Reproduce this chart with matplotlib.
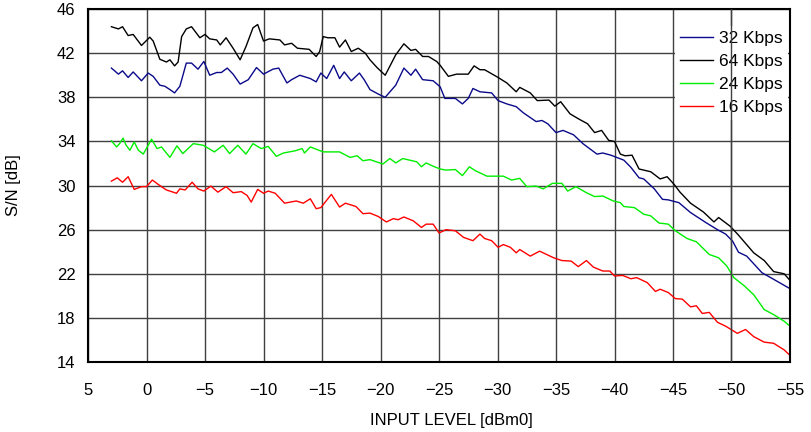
import numpy as np
import matplotlib
matplotlib.use("Agg")
import matplotlib.pyplot as plt

plt.rcParams['font.family'] = ['Liberation Sans', 'DejaVu Sans']

# 64 Kbps (black)
x64 = [3.0, 2.4, 2.05, 1.57, 1.14, 0.43, -0.28, -0.57, -1.14, -1.7, -2.0, -2.4, -2.7, -3.0, -3.4,
       -3.85, -4.56, -5.0, -5.4, -6.0, -6.3, -6.8, -7.4, -8.0, -8.5, -9.1, -9.5, -10.0, -10.5, -11.4,
       -11.8, -12.4, -12.9, -13.9, -14.5, -14.8, -15.1, -15.5, -16.1, -16.5, -17.0, -17.5, -18.1, -18.7,
       -19.1, -19.7, -20.4, -21.3, -22.0, -22.6, -23.0, -23.6, -24.1, -24.8, -25.1, -25.8, -26.5, -27.5,
       -28.0, -28.5, -28.9, -30.05, -30.8, -31.6, -31.9, -32.8, -33.4, -34.4, -34.9, -35.4, -36.2, -37.0,
       -37.7, -38.3, -38.9, -39.5, -40.0, -40.5, -40.9, -41.5, -42.1, -43.1, -43.9, -44.5, -45.1, -45.6,
       -46.5, -47.6, -48.5, -48.9, -49.9, -50.6, -51.9, -52.8, -53.6, -54.5, -55.0]
y64 = [44.4, 44.2, 44.4, 43.6, 43.7, 42.7, 43.45, 43.1, 41.45, 41.2, 41.4, 40.85, 41.2, 43.5, 44.2,
       44.4, 43.4, 43.7, 43.3, 43.2, 42.75, 43.4, 42.45, 41.4, 42.6, 44.3, 44.6, 43.1, 43.3, 43.2,
       42.75, 42.9, 42.45, 42.35, 41.7, 42.15, 43.5, 43.4, 43.4, 42.55, 43.2, 42.15, 42.45, 42.0,
       41.4, 40.7, 40.0, 41.85, 42.85, 42.25, 42.35, 41.7, 41.7, 41.25, 40.9, 39.9, 40.1, 40.1,
       40.85, 40.5, 40.5, 39.8, 39.3, 38.5, 38.9, 38.4, 37.7, 37.75, 37.2, 37.6, 36.5, 36.0,
       35.6, 34.8, 35.0, 34.1, 34.0, 32.85, 32.7, 32.75, 31.5, 31.25, 30.6, 30.8, 30.1, 29.4,
       28.4, 27.6, 26.7, 27.1, 26.3, 25.5, 23.9, 23.2, 22.2, 22.0, 21.4]

# 32 Kbps (navy)
x32 = [3.0, 2.4, 2.05, 1.57, 1.14, 0.43, -0.14, -0.57, -1.14, -1.57, -2.0, -2.4, -2.85, -3.4, -3.85,
       -4.4, -4.9, -5.4, -6.0, -6.4, -6.9, -7.4, -8.0, -8.7, -9.4, -10.0, -10.8, -11.3, -12.0, -12.4,
       -13.1, -14.0, -14.5, -14.9, -15.4, -16.0, -16.5, -16.9, -17.5, -18.2, -18.6, -19.1, -19.8, -20.4,
       -21.3, -22.0, -22.6, -23.0, -23.6, -24.5, -25.1, -25.5, -26.4, -27.0, -27.5, -27.9, -28.5, -29.5,
       -30.05, -30.8, -31.6, -32.2, -33.3, -33.8, -34.3, -35.0, -35.6, -36.5, -37.3, -38.5, -39.0, -39.7,
       -40.8, -41.4, -42.1, -42.5, -43.4, -44.1, -44.6, -45.5, -46.5, -47.8, -48.8, -49.5, -50.1, -50.6,
       -51.3, -52.6, -53.6, -55.0]
y32 = [40.65, 40.1, 40.4, 39.8, 40.3, 39.5, 40.2, 39.9, 39.1, 39.0, 38.7, 38.4, 39.0, 41.1, 41.1,
       40.55, 41.25, 40.0, 40.25, 40.25, 40.65, 40.1, 39.2, 39.6, 40.7, 40.1, 40.55, 40.65, 39.3, 39.6,
       40.0, 39.7, 39.4, 40.2, 39.7, 40.9, 39.7, 40.3, 39.5, 40.2, 39.6, 38.7, 38.3, 38.0,
       39.1, 40.65, 40.0, 40.55, 39.6, 39.5, 38.95, 37.9, 37.9, 37.4, 37.9, 38.8, 38.5, 38.4,
       37.7, 37.4, 37.15, 36.6, 35.8, 35.9, 35.6, 34.8, 35.0, 34.6, 33.8, 32.85, 32.95, 32.75,
       32.3, 31.65, 30.7, 30.6, 29.7, 28.75, 28.7, 28.45, 27.55, 26.65, 26.0, 25.6, 24.95, 23.95,
       23.6, 22.1, 21.5, 20.65]

# 24 Kbps (green)
x24 = [3.0, 2.56, 2.3, 2.0, 1.77, 1.42, 1.05, 0.7, 0.28, -0.43, -0.9, -1.28, -2.0, -2.6, -3.1,
       -4.0, -4.85, -5.8, -6.55, -7.1, -7.8, -8.5, -9.1, -9.8, -10.4, -11.1, -11.7, -12.7, -13.3, -13.5,
       -14.0, -15.1, -16.5, -17.4, -18.0, -18.5, -19.1, -20.2, -20.8, -21.3, -21.9, -23.1, -23.5, -23.9,
       -24.5, -25.1, -25.6, -26.4, -27.0, -27.6, -28.1, -29.1, -30.5, -31.2, -31.9, -32.5, -33.3, -33.9,
       -34.7, -35.5, -36.0, -36.7, -37.6, -38.3, -39.0, -39.9, -40.5, -40.8, -41.7, -42.5, -43.1, -43.8,
       -44.6, -45.2, -46.2, -47.0, -48.1, -48.9, -49.6, -50.2, -51.1, -51.9, -52.8, -53.6, -54.5, -55.0]
y24 = [34.05, 33.5, 33.8, 34.3, 33.7, 33.2, 33.95, 33.2, 32.85, 34.2, 33.35, 33.5, 32.55, 33.6, 32.9,
       33.8, 33.65, 33.05, 33.65, 32.9, 33.65, 32.85, 33.8, 33.35, 33.55, 32.65, 32.95, 33.15, 33.35, 32.95,
       33.5, 33.05, 33.05, 32.55, 32.7, 32.25, 32.35, 31.95, 32.45, 32.05, 32.45, 32.15, 31.7, 32.05,
       31.75, 31.5, 31.4, 31.45, 30.9, 31.7, 31.35, 30.85, 30.85, 30.5, 30.65, 29.9, 29.95, 29.7,
       30.2, 30.2, 29.5, 29.9, 29.35, 29.0, 29.05, 28.6, 28.45, 28.1, 28.0, 27.4, 27.25, 26.6,
       26.5, 25.9, 25.2, 24.9, 23.75, 23.45, 22.7, 21.65, 20.9, 20.1, 18.75, 18.3, 17.7, 17.25]

# 16 Kbps (red)
x16 = [3.0, 2.5, 2.05, 1.57, 1.05, 0.43, 0.0, -0.5, -1.0, -1.7, -2.56, -2.85, -3.3, -3.9, -4.4,
       -4.9, -5.5, -6.1, -6.8, -7.4, -8.1, -8.6, -8.95, -9.5, -10.0, -10.4, -11.0, -11.8, -12.8, -13.4,
       -14.0, -14.5, -14.9, -15.8, -16.5, -17.0, -17.9, -18.5, -19.1, -19.8, -20.5, -21.1, -21.5, -22.0,
       -22.8, -23.5, -23.9, -24.5, -25.0, -25.6, -26.4, -27.1, -27.9, -28.5, -28.9, -29.5, -30.05, -30.5,
       -31.1, -31.6, -31.9, -32.8, -33.6, -34.8, -35.5, -36.3, -36.9, -37.6, -38.2, -39.0, -39.6, -40.0,
       -40.7, -41.4, -41.9, -42.8, -43.5, -43.9, -44.6, -45.2, -45.8, -46.5, -47.0, -47.5, -48.1, -48.8,
       -49.5, -50.5, -51.2, -51.9, -52.8, -53.6, -54.5, -55.0]
y16 = [30.4, 30.7, 30.3, 30.8, 29.65, 29.9, 29.9, 30.5, 30.1, 29.6, 29.3, 29.7, 29.6, 30.3, 29.7,
       29.5, 29.95, 29.4, 29.9, 29.35, 29.45, 29.1, 28.5, 29.65, 29.3, 29.5, 29.3, 28.4, 28.6, 28.4,
       28.8, 27.9, 28.0, 29.2, 28.05, 28.4, 28.1, 27.45, 27.5, 27.2, 26.7, 27.0, 26.9, 27.15,
       26.8, 26.2, 26.5, 26.5, 25.7, 26.0, 25.9, 25.3, 25.0, 25.6, 25.2, 25.0, 24.4, 24.65,
       24.4, 23.9, 24.2, 23.6, 24.05, 23.45, 23.2, 23.15, 22.65, 23.2, 22.6, 22.25, 22.25, 21.8,
       21.85, 21.55, 21.65, 21.2, 20.4, 20.6, 20.3, 19.75, 19.7, 19.0, 19.1, 18.4, 18.5, 17.6,
       17.25, 16.6, 16.95, 16.3, 15.8, 15.7, 15.1, 14.6]

series = [
    ("32 Kbps", x32, y32, "#0a0a8a"),
    ("64 Kbps", x64, y64, "black"),
    ("24 Kbps", x24, y24, "#00ee00"),
    ("16 Kbps", x16, y16, "red"),
]

xticks = np.arange(5, -56, -5)
yticks = np.arange(14, 47, 4)

fig = plt.figure(figsize=(8.12, 4.32), dpi=100)
ax = fig.add_axes([0.1084, 0.162, 0.8645, 0.817])

for label, xs, ys, col in series:
    ax.plot(xs, ys, color=col, lw=1.0, label=label)

ax.set_xlim(5, -55)
ax.set_ylim(14, 46)
ax.set_xticks(xticks)
ax.set_yticks(yticks)
ax.grid(True, color="0.25", lw=1.0)
ax.set_axisbelow(True)
ax.tick_params(length=0, labelsize=12)
ax.tick_params(axis="x", pad=15)
ax.tick_params(axis="y", pad=9)
for sp in ax.spines.values():
    sp.set_linewidth(1.5)
    sp.set_color("black")

ax.set_xlabel("INPUT LEVEL [dBm0]", fontsize=12)
ax.xaxis.set_label_coords(0.517, -0.145)
ax.set_ylabel("S/N [dB]", fontsize=12)
ax.yaxis.set_label_coords(-0.095, 0.5)

leg = ax.legend(loc="upper right", bbox_to_anchor=(0.997, 0.953), borderaxespad=0,
                fontsize=12.5, handlelength=1.9, handletextpad=0.35, labelspacing=0.45,
                frameon=True, fancybox=False, borderpad=0.3)
leg.get_frame().set_edgecolor("none")
leg.get_frame().set_alpha(1)
# the -50 grid line shows through the legend box in the original
ax.axvline(-50, color="0.25", lw=1.0, zorder=6)

fig.savefig("out.png", dpi=100)
